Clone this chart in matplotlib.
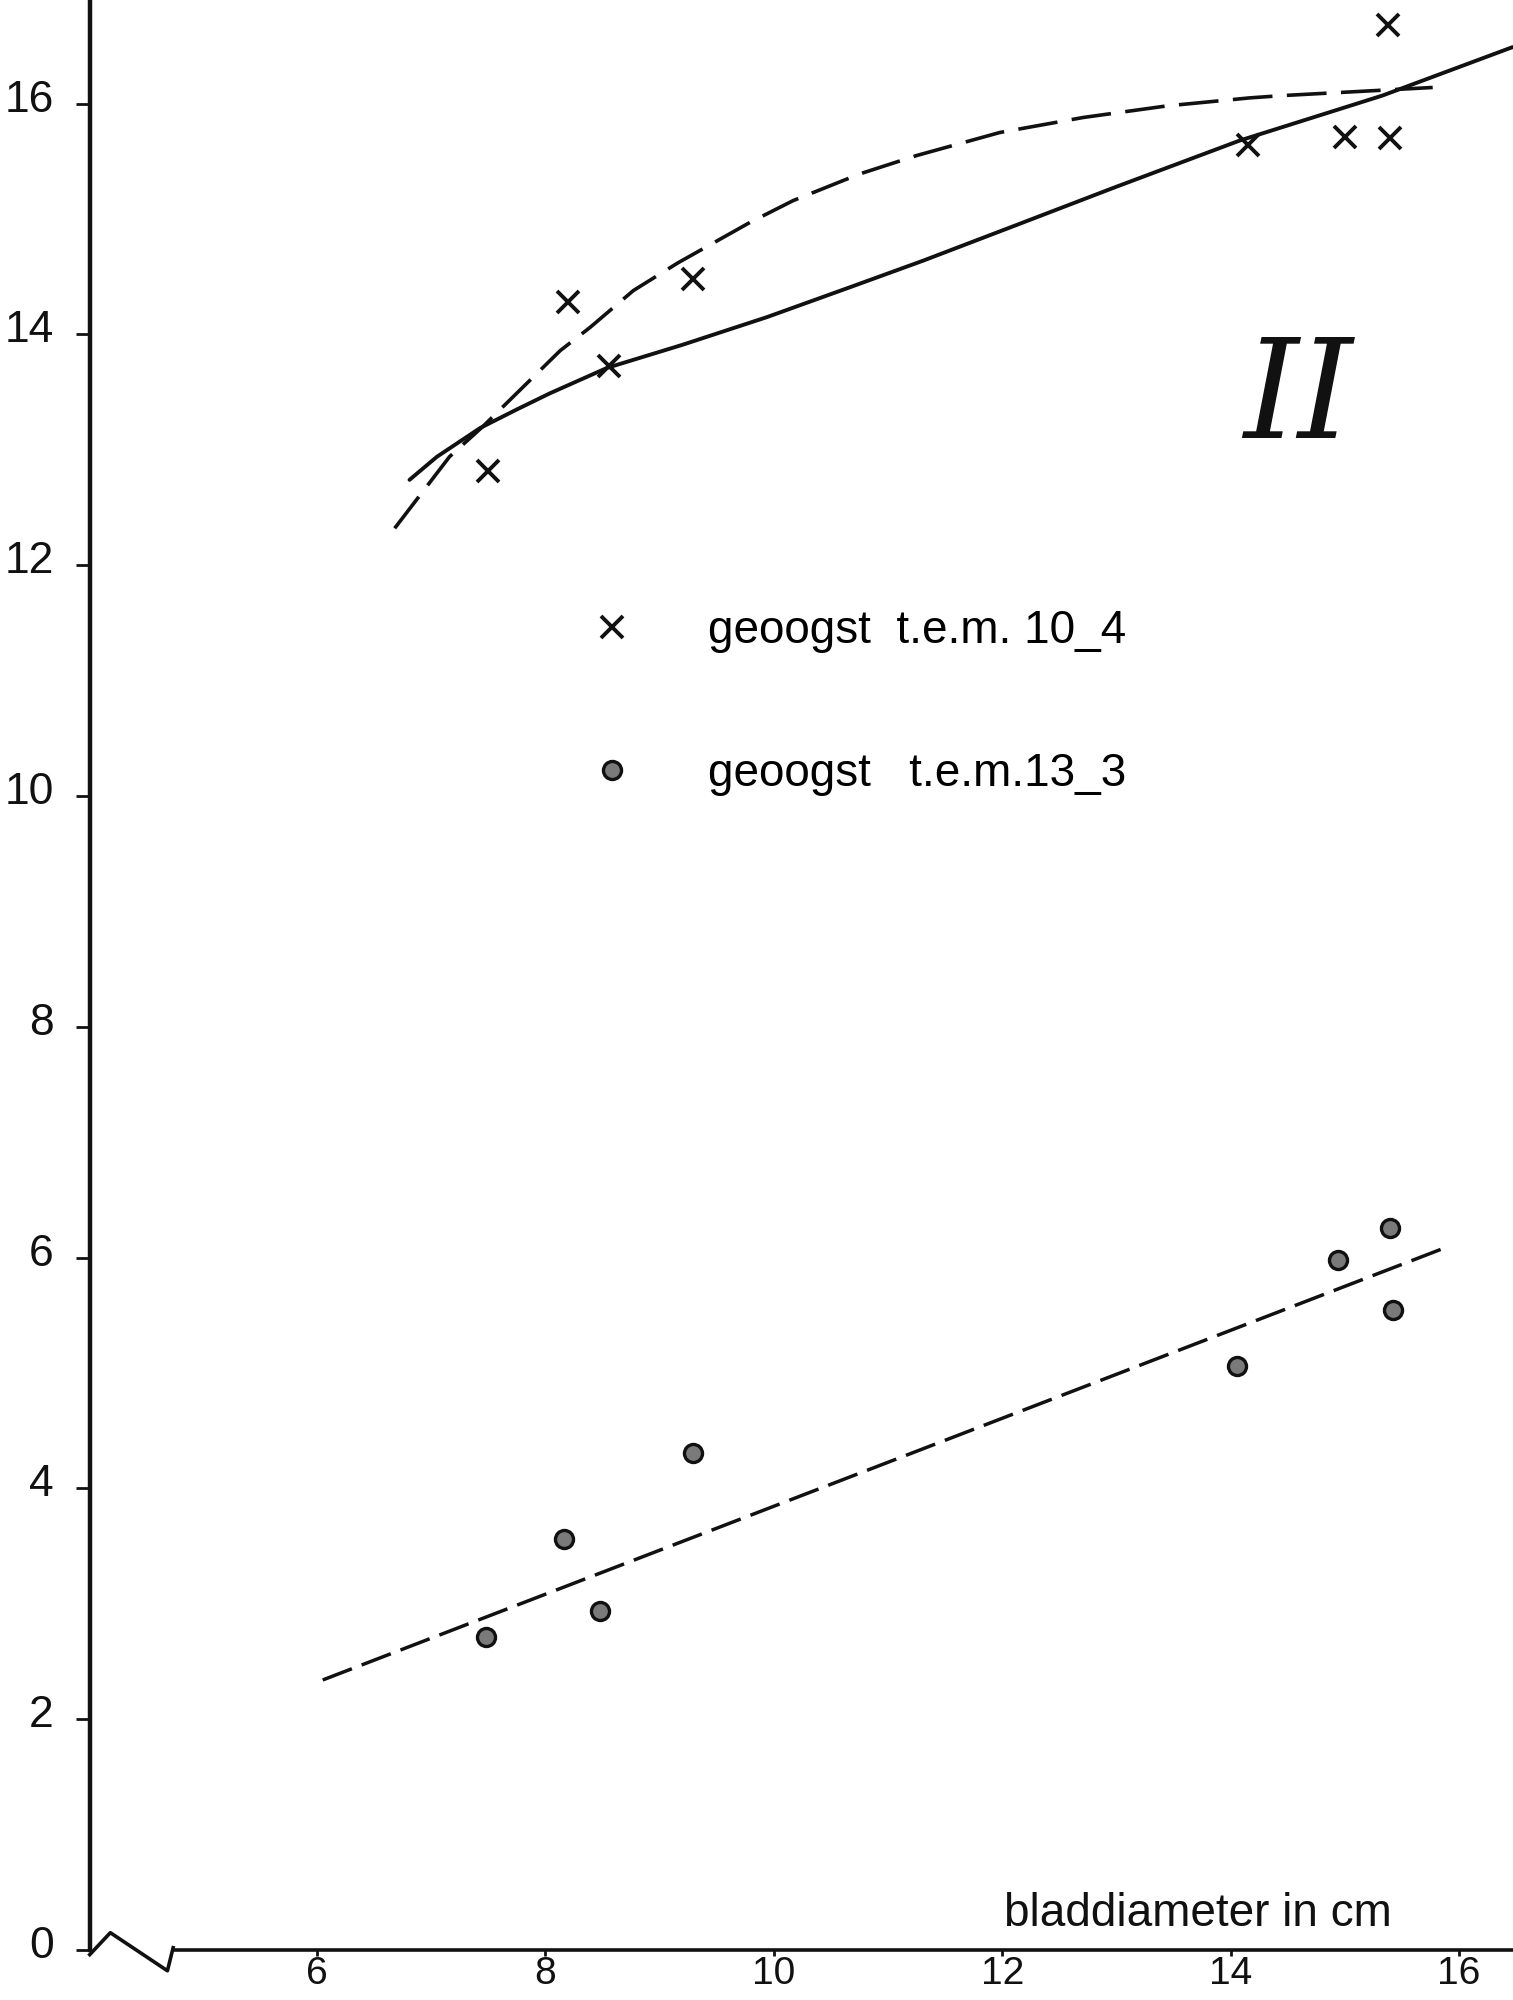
import numpy as np
import matplotlib.pyplot as plt
import matplotlib.transforms as mtransforms

# geoogst t.e.m. 10-4 (crosses)
x_apr = [7.50, 8.20, 8.56, 9.29, 14.15, 15.00, 15.40, 15.38]
y_apr = [12.82, 14.28, 13.73, 14.48, 15.64, 15.71, 15.70, 16.68]

# geoogst t.e.m. 13-3 (dots)
x_mar = [7.48, 8.16, 8.48, 9.29, 14.06, 14.94, 15.40, 15.42]
y_mar = [2.71, 3.56, 2.94, 4.31, 5.06, 5.98, 6.26, 5.55]

# hand drawn curves
solid_x = [6.81, 7.05, 7.43, 7.75, 8.04, 8.54, 9.20, 9.94, 10.67, 11.31, 12.13, 13.00, 14.08, 15.33, 16.47]
solid_y = [12.74, 12.94, 13.19, 13.35, 13.49, 13.71, 13.91, 14.15, 14.41, 14.64, 14.95, 15.28, 15.68, 16.07, 16.49]

dash_top_x = [6.68, 7.16, 7.45, 7.80, 8.13, 8.39, 8.77, 9.16, 9.79, 10.17, 10.75, 11.25, 11.98, 12.71, 13.44, 14.17, 14.46, 15.77]
dash_top_y = [12.32, 12.94, 13.20, 13.54, 13.86, 14.06, 14.38, 14.62, 14.97, 15.16, 15.39, 15.55, 15.75, 15.88, 15.98, 16.05, 16.07, 16.14]

dash_low_x = [6.05, 15.89]
dash_low_y = [2.34, 6.09]

xticks = [6, 8, 10, 12, 14, 16]
yticks = [0, 2, 4, 6, 8, 10, 12, 14, 16]

# zigzag break at the start of the x axis
break_x = [4.01, 4.19, 4.69, 4.74]
break_y = [-0.04, 0.15, -0.18, 0.02]

ink = '#111111'
fam = ['Liberation Sans', 'DejaVu Sans']
plt.rcParams['font.family'] = fam

fig = plt.figure(figsize=(15.13, 20), dpi=100)
ax = fig.add_axes([90 / 1513, 50 / 2000, 1 - 90 / 1513, 1950 / 2000])
ax.set_xlim(4.012, 16.473)
ax.set_ylim(0, 16.898)

#Curves
ax.plot(solid_x, solid_y, color=ink, lw=2.8, solid_capstyle='round', solid_joinstyle='round')
ax.plot(dash_top_x, dash_top_y, color=ink, lw=2.6, dashes=(11, 4))
ax.plot(dash_low_x, dash_low_y, color=ink, lw=2.5, dashes=(9, 3))

#Points
h1, = ax.plot(x_apr, y_apr, ls='none', marker='x', ms=16, mew=2.8, color=ink,
              label='geoogst  t.e.m. 10_4')
h2, = ax.plot(x_mar, y_mar, ls='none', marker='o', ms=13, mfc='#7a7a7a', mec=ink, mew=2.4,
              label='geoogst   t.e.m.13_3')

ax.legend(handles=[h1, h2], loc='upper left', bbox_to_anchor=(8.38, 11.62),
          bbox_transform=ax.transData, frameon=False, handlelength=1.0,
          handletextpad=1.6, labelspacing=2.15, borderpad=0, borderaxespad=0,
          numpoints=1, prop={'family': fam, 'size': 33})

#Axes
for side in ['top', 'right']:
    ax.spines[side].set_visible(False)
ax.spines['left'].set_linewidth(3.2)
ax.spines['bottom'].set_linewidth(2.6)
ax.spines['bottom'].set_bounds(4.74, 16.473)
ax.plot(break_x, break_y, color=ink, lw=2.6, clip_on=False)
for s in ax.spines.values():
    s.set_color(ink)

ax.set_xticks(xticks)
ax.set_yticks(yticks)
ax.tick_params(axis='y', direction='out', length=10, width=2, pad=16, labelsize=32, colors=ink)
ax.tick_params(axis='x', direction='out', length=4.5, width=2, pad=0, labelsize=28, colors=ink)
shift = mtransforms.ScaledTranslation(0, 0.08, fig.dpi_scale_trans)
for lab in ax.get_yticklabels():
    lab.set_transform(lab.get_transform() + shift)

#Labelling
ax.text(13.71, 0.31, 'bladdiameter in cm', fontsize=33, ha='center', va='center', color=ink)
ax.text(14.59, 13.43, 'II', fontsize=100, family='DejaVu Serif', style='italic',
        ha='center', va='center', color=ink)

plt.savefig('out.png', dpi=100)
